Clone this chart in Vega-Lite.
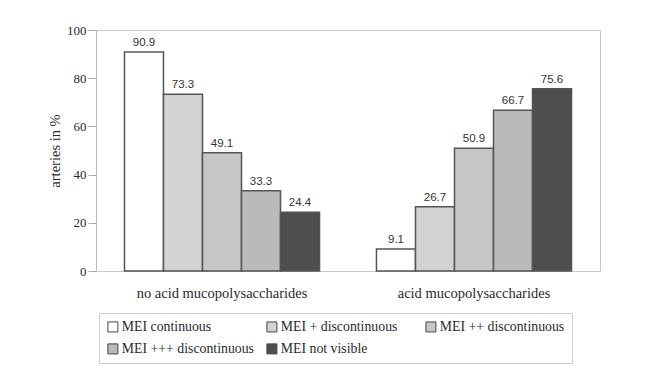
{
  "$schema": "https://vega.github.io/schema/vega-lite/v6.json",
  "width": 504,
  "height": 241,
  "autosize": {"type": "none"},
  "padding": {"left": 96, "top": 30, "right": 56, "bottom": 96},
  "background": "white",
  "config": {
    "view": {"stroke": "#c8c8c8", "strokeWidth": 1},
    "font": "Liberation Serif",
    "legend": {"labelFont": "Liberation Serif"}
  },
  "data": {
    "values": [
      {"group": "no acid mucopolysaccharides", "type": "MEI continuous", "value": 90.9},
      {"group": "no acid mucopolysaccharides", "type": "MEI + discontinuous", "value": 73.3},
      {"group": "no acid mucopolysaccharides", "type": "MEI ++ discontinuous", "value": 49.1},
      {"group": "no acid mucopolysaccharides", "type": "MEI +++ discontinuous", "value": 33.3},
      {"group": "no acid mucopolysaccharides", "type": "MEI not visible", "value": 24.4},
      {"group": "acid mucopolysaccharides", "type": "MEI continuous", "value": 9.1},
      {"group": "acid mucopolysaccharides", "type": "MEI + discontinuous", "value": 26.7},
      {"group": "acid mucopolysaccharides", "type": "MEI ++ discontinuous", "value": 50.9},
      {"group": "acid mucopolysaccharides", "type": "MEI +++ discontinuous", "value": 66.7},
      {"group": "acid mucopolysaccharides", "type": "MEI not visible", "value": 75.6}
    ]
  },
  "encoding": {
    "x": {
      "field": "group",
      "type": "nominal",
      "sort": ["no acid mucopolysaccharides", "acid mucopolysaccharides"],
      "scale": {"paddingInner": 0.226, "paddingOuter": 0.113},
      "axis": {
        "title": null,
        "labelAngle": 0,
        "ticks": false,
        "domain": false,
        "labelFont": "Liberation Serif",
        "labelFontSize": 14.5,
        "labelColor": "#2a2a2a",
        "labelBaseline": "middle",
        "labelPadding": 22
      }
    },
    "xOffset": {
      "field": "type",
      "type": "nominal",
      "sort": ["MEI continuous", "MEI + discontinuous", "MEI ++ discontinuous", "MEI +++ discontinuous", "MEI not visible"],
      "scale": {"paddingInner": 0, "paddingOuter": 0}
    },
    "y": {
      "field": "value",
      "type": "quantitative",
      "scale": {"domain": [0, 100]},
      "axis": {
        "title": "arteries in %",
        "titleFont": "Liberation Serif",
        "titleFontSize": 14.5,
        "titleFontWeight": "normal",
        "titleColor": "#2a2a2a",
        "titlePadding": 4,
        "values": [0, 20, 40, 60, 80, 100],
        "grid": false,
        "domainColor": "#bbb",
        "tickColor": "#aaa",
        "tickSize": 8,
        "labelPadding": 2,
        "labelFont": "Liberation Serif",
        "labelFontSize": 13,
        "labelColor": "#2a2a2a"
      }
    }
  },
  "layer": [
    {
      "mark": {"type": "bar", "stroke": "#555", "strokeWidth": 1.5},
      "encoding": {
        "fill": {
          "field": "type",
          "type": "nominal",
          "scale": {
            "domain": ["MEI continuous", "MEI + discontinuous", "MEI ++ discontinuous", "MEI +++ discontinuous", "MEI not visible"],
            "range": ["#ffffff", "#d2d2d2", "#c6c6c6", "#bababa", "#4e4e4e"]
          },
          "legend": {
            "title": null,
            "orient": "none",
            "legendX": 3,
            "legendY": 283,
            "direction": "horizontal",
            "columns": 3,
            "gridAlign": "all",
            "strokeColor": "#cccccc",
            "padding": 7,
            "symbolType": "square",
            "symbolSize": 100,
            "symbolStrokeColor": "#444",
            "symbolStrokeWidth": 1,
            "labelFont": "Liberation Serif",
            "labelFontSize": 13.8,
            "labelColor": "#2a2a2a",
            "labelOffset": 2,
            "columnPadding": 10,
            "rowPadding": 7,
            "labelLimit": 300
          }
        }
      }
    },
    {
      "mark": {"type": "text", "baseline": "bottom", "dy": -4, "font": "Liberation Sans", "fontSize": 11.5, "color": "#333"},
      "encoding": {
        "text": {"field": "value", "type": "quantitative", "format": ".1f"}
      }
    }
  ]
}
